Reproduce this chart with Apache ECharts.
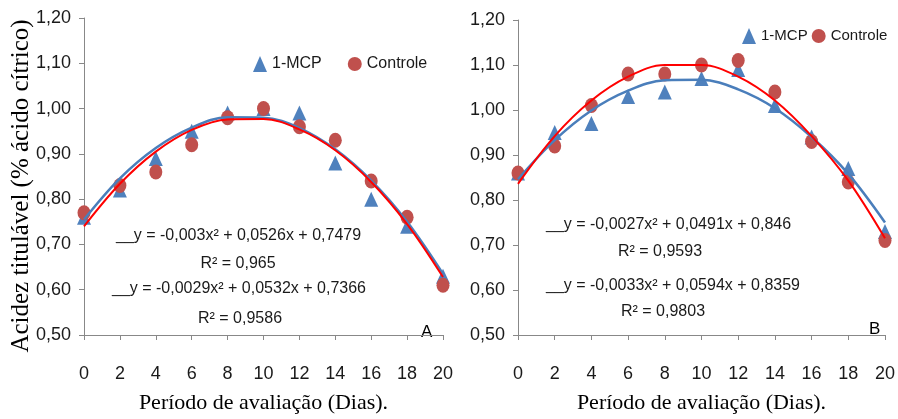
<!DOCTYPE html>
<html><head><meta charset="utf-8">
<script src="https://cdn.jsdelivr.net/npm/echarts@6/dist/echarts.min.js"></script>
<style>html,body{margin:0;padding:0;background:#fff}#c{width:898px;height:419px}</style>
</head><body><div id="c"></div>
<script>
const days = [0, 2, 4, 6, 8, 10, 12, 14, 16, 18, 20];
const mcpA = [0.76, 0.82, 0.89, 0.95, 0.99, 1.00, 0.99, 0.88, 0.80, 0.74, 0.63];
const ctrlA = [0.77, 0.83, 0.86, 0.92, 0.98, 1.00, 0.96, 0.93, 0.84, 0.76, 0.61];
const mcpB = [0.86, 0.95, 0.97, 1.03, 1.04, 1.07, 1.09, 1.01, 0.94, 0.87, 0.73];
const ctrlB = [0.86, 0.92, 1.01, 1.08, 1.08, 1.10, 1.11, 1.04, 0.93, 0.84, 0.71];
const trendMcpA = [0.755, 0.846, 0.913, 0.958, 0.981, 0.980, 0.957, 0.910, 0.841, 0.750, 0.635];
const trendCtrlA = [0.740, 0.834, 0.905, 0.953, 0.976, 0.977, 0.954, 0.908, 0.838, 0.745, 0.628];
const trendMcpB = [0.846, 0.933, 0.999, 1.043, 1.066, 1.067, 1.046, 1.004, 0.940, 0.858, 0.750];
const trendCtrlB = [0.836, 0.942, 1.021, 1.074, 1.100, 1.100, 1.074, 1.021, 0.942, 0.843, 0.715];
const yTicks = ['0,50','0,60','0,70','0,80','0,90','1,00','1,10','1,20'];
const eqA = ['y = -0,003x² + 0,0526x + 0,7479', 'R² = 0,965', 'y = -0,0029x² + 0,0532x + 0,7366', 'R² = 0,9586'];
const eqB = ['y = -0,0027x² + 0,0491x + 0,846', 'R² = 0,9593', 'y = -0,0033x² + 0,0594x + 0,8359', 'R² = 0,9803'];

const SANS = 'Liberation Sans';
const SERIF = 'Liberation Serif';
const BLUE = '#4F81BD', RED = '#C0504D', BLUE_L = '#4A7EBB', RED_L = '#FF0000';
const pair = (arr) => days.map((d, i) => [d, arr[i]]);

function xAx(gi) {
  return {
    gridIndex: gi, type: 'value', min: 0, max: 20, interval: 2,
    name: 'Período de avaliação (Dias).', nameLocation: 'middle', nameGap: 57,
    nameTextStyle: { fontFamily: SERIF, fontSize: 22, color: '#000' },
    axisLine: { lineStyle: { color: '#888', width: 1 } },
    axisTick: { show: true, inside: false, length: 5, lineStyle: { color: '#888' } },
    axisLabel: { fontFamily: SANS, fontSize: 18, color: '#1a1a1a', margin: 30 },
    splitLine: { show: false }
  };
}
function yAx(gi) {
  return {
    gridIndex: gi, type: 'value', min: 0.5, max: 1.2, interval: 0.1,
    axisLine: { show: true, lineStyle: { color: '#888', width: 1 } },
    axisTick: { show: true, inside: false, length: 5, lineStyle: { color: '#888' } },
    axisLabel: { fontFamily: SANS, fontSize: 18, color: '#1a1a1a', margin: 13,
      formatter: (v) => yTicks[Math.round((v - 0.5) * 10)] },
    splitLine: { show: false }
  };
}
function pts(name, data, gi, sym, color) {
  return { name, type: 'scatter', xAxisIndex: gi, yAxisIndex: gi, data: pair(data),
    symbol: sym, symbolSize: sym === 'triangle' ? [14, 15] : [13, 15],
    itemStyle: { color, opacity: 1 }, z: 2 };
}
function trend(name, data, gi, color, w) {
  return { name, type: 'line', xAxisIndex: gi, yAxisIndex: gi, data: pair(data),
    smooth: 0.35, symbol: 'none', lineStyle: { color, width: w }, z: 3, silent: true };
}
function eqText(x, y, txt, color, withKey) {
  return { type: 'text', left: x, top: y, style: {
    text: withKey ? '{k|__}' + txt : txt,
    fontFamily: SANS, fontSize: 16, fill: '#1a1a1a',
    rich: { k: { fontFamily: SANS, fontSize: 16, color: color } } } };
}
function cText(cx, y, txt) {
  return { type: 'text', x: cx, y: y, style: { text: txt, fontFamily: SANS, fontSize: 16, fill: '#1a1a1a', align: 'center', verticalAlign: 'middle' } };
}

const chart = echarts.init(document.getElementById('c'));
chart.setOption({
  animation: false,
  grid: [
    { left: 84, top: 18, width: 359, height: 323 },
    { left: 518, top: 20, width: 369, height: 322 }
  ],
  xAxis: [xAx(0), xAx(1)],
  yAxis: [yAx(0), yAx(1)],
  legend: [
    { left: 248, top: 51, width: 250, orient: 'horizontal', itemWidth: 14, itemHeight: 16, itemGap: 26,
      textStyle: { fontFamily: SANS, fontSize: 16, color: '#1a1a1a' },
      data: [{ name: '1-MCP', icon: 'triangle' }, { name: 'Controle', icon: 'circle' }] },
    { left: 737, top: 23, width: 200, orient: 'horizontal', itemWidth: 14, itemHeight: 16, itemGap: 4,
      textStyle: { fontFamily: SANS, fontSize: 15, color: '#1a1a1a' },
      data: [{ name: '1-MCP', icon: 'triangle' }, { name: 'Controle', icon: 'circle' }] }
  ],
  series: [
    pts('1-MCP', mcpA, 0, 'triangle', BLUE),
    pts('Controle', ctrlA, 0, 'circle', RED),
    pts('1-MCP', mcpB, 1, 'triangle', BLUE),
    pts('Controle', ctrlB, 1, 'circle', RED),
    trend('Tendência 1-MCP A', trendMcpA, 0, BLUE_L, 2.5),
    trend('Tendência Controle A', trendCtrlA, 0, RED_L, 2),
    trend('Tendência 1-MCP B', trendMcpB, 1, BLUE_L, 2.5),
    trend('Tendência Controle B', trendCtrlB, 1, RED_L, 2)
  ],
  graphic: [
    { type: 'text', x: 21, y: 186, rotation: Math.PI / 2,
      style: { text: 'Acidez titulável (% ácido cítrico)', fontFamily: SERIF, fontSize: 25, fill: '#000', align: 'center', verticalAlign: 'middle' } },
    eqText(116, 228, eqA[0], BLUE_L, true),
    cText(238, 264, eqA[1]),
    eqText(112, 281, eqA[2], RED_L, true),
    cText(240, 319, eqA[3]),
    { type: 'text', left: 421, top: 324, style: { text: 'A', fontFamily: SANS, fontSize: 17, fill: '#000' } },
    eqText(546, 217, eqB[0], BLUE_L, true),
    cText(660, 252, eqB[1]),
    eqText(546, 278, eqB[2], RED_L, true),
    cText(663, 312, eqB[3]),
    { type: 'text', left: 869, top: 321, style: { text: 'B', fontFamily: SANS, fontSize: 17, fill: '#000' } }
  ]
});
</script></body></html>
